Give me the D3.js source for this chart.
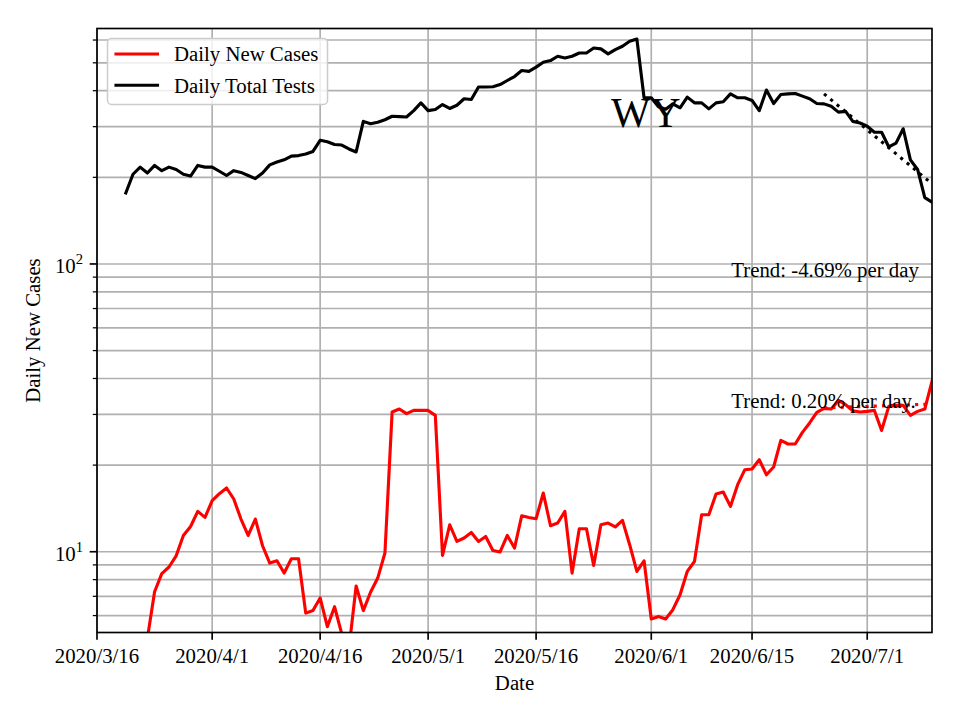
<!DOCTYPE html>
<html><head><meta charset="utf-8">
<script src="https://cdn.jsdelivr.net/npm/d3@7"></script>
<style>body{margin:0;background:#fff} svg{display:block}</style>
</head><body>
<svg id="chart" width="960" height="720"></svg>
<script>
const startDate = "2020-03-20";
const dailyNewCases = [
  3, 3.5, 4, 5.0, 7.26, 8.39, 8.85, 9.68, 11.39, 12.24,
  13.81, 13.16, 15.04, 15.91, 16.65, 15.25, 12.99, 11.39, 12.99, 10.49,
  9.13, 9.30, 8.43, 9.45, 9.45, 6.12, 6.25, 6.91, 5.49, 6.44,
  5.19, 4.6, 7.60, 6.24, 7.23, 8.10, 9.90, 30.59, 31.33, 30.18,
  30.98, 30.98, 30.98, 29.77, 9.71, 12.41, 10.86, 11.16, 11.67, 10.86,
  11.30, 10.10, 9.98, 11.39, 10.30, 13.34, 13.16, 13.02, 16.0, 12.31,
  12.58, 13.81, 8.43, 12.02, 12.02, 8.96, 12.41, 12.58, 12.19, 12.85,
  10.58, 8.54, 9.30, 5.84, 5.96, 5.84, 6.29, 7.09, 8.54, 9.25,
  13.45, 13.45, 15.87, 16.13, 14.37, 17.10, 19.28, 19.39, 20.88, 18.51,
  19.70, 24.37, 23.68, 23.68, 25.98, 28.02, 30.50, 31.49, 31.33, 33.57,
  32.43, 30.91, 30.59, 30.74, 30.98, 26.40, 31.99, 32.25, 32.25, 29.77,
  30.74, 31.33, 39.07
];
const dailyTotalTests = [
  176.5, 205, 217, 207, 220, 211, 217, 213, 205, 202,
  220, 217, 217, 210, 203, 211, 208, 203, 198, 207,
  221, 226, 230, 237, 238, 241, 246, 269, 266, 260,
  259, 251, 245, 313, 307, 311, 317, 326, 325, 324,
  341, 363, 341, 344, 358, 347, 356, 375, 373, 412,
  412, 413, 420, 434, 448, 470, 467, 483, 502, 509,
  527, 520, 527, 541, 541, 563, 559, 537, 556, 571,
  594, 605, 378, 378, 352, 345, 360, 349, 380, 363,
  363, 346, 363, 366, 390, 378, 378, 370, 341, 402,
  361, 388, 390, 391, 383, 375, 361, 360, 353, 337,
  339, 313, 309, 301, 287, 287, 255, 263, 295, 230,
  213, 170, 164
];
const xTickDates = ["2020-03-16","2020-04-01","2020-04-16","2020-05-01","2020-05-16","2020-06-01","2020-06-15","2020-07-01"];
const xTickLabels = ["2020/3/16","2020/4/1","2020/4/16","2020/5/1","2020/5/16","2020/6/1","2020/6/15","2020/7/1"];
const yMajorTicks = [10, 100];
const yMajorExponents = ["1", "2"];
const yMinorTicks = [6, 7, 8, 9, 20, 30, 40, 50, 60, 70, 80, 90, 200, 300, 400, 500, 600];
const trendDates = ["2020-06-25", "2020-07-10"];
const testsTrend = [390, 190];
const casesTrend = [31.6, 32.6];
const trendLabels = ["Trend: -4.69% per day", "Trend: 0.20% per day."];
const trendLabelValues = [90, 31.6];
const seriesNames = ["Daily New Cases", "Daily Total Tests"];
const seriesColors = ["#ff0000", "#000000"];
const stateLabel = "WY";

const parse = d3.timeParse("%Y-%m-%d");
const FONT = "'Liberation Serif','Times New Roman',serif";
const FS = 20.8;
const L = 97, R = 932, T = 28.5, B = 632.5;

const svg = d3.select("#chart");
svg.append("rect").attr("width", 960).attr("height", 720).attr("fill", "#fff");

const x = d3.scaleTime().domain([parse("2020-03-16"), parse("2020-07-10")]).range([L, R]);
const y = d3.scaleLog().domain([5.24, 658]).range([B, T]);

const start = parse(startDate);
const dates = dailyNewCases.map((_, i) => d3.timeDay.offset(start, i));

// clip
svg.append("clipPath").attr("id", "clip").append("rect")
  .attr("x", L).attr("y", T).attr("width", R - L).attr("height", B - T);

// grid
const grid = svg.append("g").attr("stroke", "#b0b0b0").attr("stroke-width", 1.67);
xTickDates.forEach(d => {
  const px = x(parse(d));
  grid.append("line").attr("x1", px).attr("x2", px).attr("y1", T).attr("y2", B);
});
yMajorTicks.concat(yMinorTicks).forEach(v => {
  const py = y(v);
  grid.append("line").attr("x1", L).attr("x2", R).attr("y1", py).attr("y2", py);
});

// lines
const plot = svg.append("g").attr("clip-path", "url(#clip)");
const line = d3.line().x((d, i) => x(dates[i])).y(d => y(d));
[dailyNewCases, dailyTotalTests].forEach((s, k) => {
  plot.append("path").datum(s).attr("d", line).attr("fill", "none")
    .attr("stroke", seriesColors[k]).attr("stroke-width", 3.125)
    .attr("stroke-linejoin", "round").attr("stroke-linecap", "square");
});
const tLine = d3.line().x((d, i) => x(parse(trendDates[i]))).y(d => y(d));
[casesTrend, testsTrend].forEach((s, k) => {
  plot.append("path").datum(s).attr("d", tLine).attr("fill", "none")
    .attr("stroke", seriesColors[k]).attr("stroke-width", 3.125)
    .attr("stroke-dasharray", "3.125,5.16").attr("stroke-linecap", "butt");
});

// annotations
const labelX = x(new Date(2020, 5, 12, 3));
trendLabels.forEach((t, i) => {
  svg.append("text").attr("x", labelX).attr("y", y(trendLabelValues[i]))
    .attr("font-family", FONT).attr("font-size", FS).attr("fill", "#000").text(t);
});
svg.append("text").attr("x", x(new Date(2020, 4, 26, 10))).attr("y", y(300))
  .attr("font-family", FONT).attr("font-size", 41.7).attr("fill", "#000").text(stateLabel);

// spines
svg.append("rect").attr("x", L).attr("y", T).attr("width", R - L).attr("height", B - T)
  .attr("fill", "none").attr("stroke", "#000").attr("stroke-width", 1.67);

// x ticks
xTickDates.forEach((d, i) => {
  const px = x(parse(d));
  svg.append("line").attr("x1", px).attr("x2", px).attr("y1", B).attr("y2", B + 7.3)
    .attr("stroke", "#000").attr("stroke-width", 1.67);
  svg.append("text").attr("x", px).attr("y", 663).attr("text-anchor", "middle")
    .attr("font-family", FONT).attr("font-size", FS).text(xTickLabels[i]);
});
// y ticks
yMajorTicks.forEach((v, i) => {
  const py = y(v);
  svg.append("line").attr("x1", L - 7.3).attr("x2", L).attr("y1", py).attr("y2", py)
    .attr("stroke", "#000").attr("stroke-width", 1.67);
  const t = svg.append("text").attr("x", 83).attr("y", py + 9.3).attr("text-anchor", "end")
    .attr("font-family", FONT).attr("font-size", FS);
  t.append("tspan").text("10");
  t.append("tspan").attr("font-size", 14.6).attr("dy", -9.3).text(yMajorExponents[i]);
});
yMinorTicks.forEach(v => {
  const py = y(v);
  svg.append("line").attr("x1", L - 4.2).attr("x2", L).attr("y1", py).attr("y2", py)
    .attr("stroke", "#000").attr("stroke-width", 1.25);
});

// axis labels
svg.append("text").attr("x", (L + R) / 2).attr("y", 690).attr("text-anchor", "middle")
  .attr("font-family", FONT).attr("font-size", FS).text("Date");
svg.append("text").attr("transform", `translate(39.5,${(T + B) / 2}) rotate(-90)`)
  .attr("text-anchor", "middle").attr("font-family", FONT).attr("font-size", FS).text("Daily New Cases");

// legend
const lg = svg.append("g");
lg.append("rect").attr("x", 107.5).attr("y", 38.5).attr("width", 220).attr("height", 66).attr("rx", 4)
  .attr("fill", "#fff").attr("fill-opacity", 0.8).attr("stroke", "#cccccc").attr("stroke-width", 1.5);
seriesNames.forEach((n, i) => {
  const ly = 54 + i * 31.3;
  lg.append("line").attr("x1", 116).attr("x2", 157.5).attr("y1", ly).attr("y2", ly)
    .attr("stroke", seriesColors[i]).attr("stroke-width", 3.125).attr("stroke-linecap", "square");
  lg.append("text").attr("x", 174).attr("y", ly + 7.3).attr("font-family", FONT).attr("font-size", FS).text(n);
});
</script>
</body></html>
